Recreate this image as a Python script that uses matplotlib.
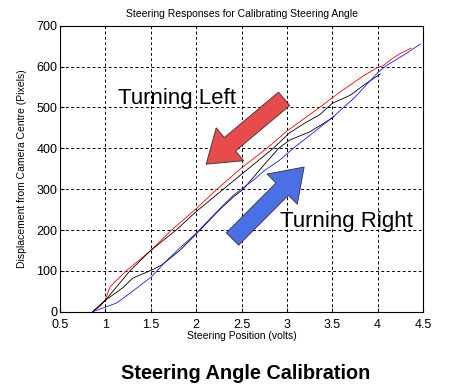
import matplotlib.pyplot as plt

plt.rcParams['font.family'] = ['Liberation Sans', 'DejaVu Sans']

# curvas: posicion de direccion (volts) vs desplazamiento (pixels)
rojo_x = [0.86, 0.95, 1.0, 1.05, 1.1, 1.23, 1.5, 1.73, 2.0, 2.23, 2.5, 2.78, 3.0,
          3.36, 3.6, 3.85, 4.0, 4.06, 4.15, 4.25, 4.37]
rojo_y = [0, 15, 30, 60, 72, 100, 150, 200, 252, 300, 352, 400, 442,
          500, 540, 578, 598, 602, 618, 632, 645]

negroA_x = [0.86, 1.0, 1.27, 1.5, 1.78, 2.0, 2.3, 2.52, 2.85, 3.03, 3.2, 3.36,
            3.5, 3.7, 3.85, 4.03]
negroA_y = [0, 28, 100, 150, 200, 245, 300, 340, 400, 438, 462, 482,
            510, 530, 555, 582]

negroB_x = [0.86, 1.0, 1.2, 1.3, 1.51, 1.62, 1.82, 2.0, 2.26, 2.41, 2.52, 2.75,
            2.91, 3.03, 3.25, 3.47, 3.52]
negroB_y = [0, 28, 60, 82, 102, 114, 150, 190, 250, 281, 300, 360,
            400, 420, 440, 470, 478]

azul_x = [0.86, 1.12, 1.27, 1.51, 1.66, 1.82, 2.0, 2.25, 2.41, 2.5, 2.63, 2.75,
          2.92, 3.07, 3.33, 3.51, 3.75, 4.0, 4.1, 4.3, 4.47]
azul_y = [0, 21, 45, 86, 122, 156, 192, 250, 285, 300, 322, 345,
          371, 400, 445, 477, 525, 585, 603, 630, 655]

xticks = [0.5, 1, 1.5, 2, 2.5, 3, 3.5, 4, 4.5]
xlabels = ['0.5', '1', '1.5', '2', '2.5', '3', '3.5', '4', '4.5']
yticks = [0, 100, 200, 300, 400, 500, 600, 700]

fig = plt.figure(figsize=(4.7, 3.92), dpi=100)
ax = fig.add_axes([0.1277, 0.2048, 0.7723, 0.7296])

ax.plot(rojo_x, rojo_y, color='red', lw=0.6)
ax.plot(negroA_x, negroA_y, color='black', lw=0.6)
ax.plot(negroB_x, negroB_y, color='black', lw=0.6)
ax.plot(azul_x, azul_y, color='#1a1aff', lw=0.6)

ax.set_xlim(0.5, 4.5)
ax.set_ylim(0, 700)
ax.set_xticks(xticks)
ax.set_xticklabels(xlabels)
ax.set_yticks(yticks)
ax.tick_params(direction='in', length=3, labelsize=9)
ax.tick_params(axis='x', pad=5.5)
ax.tick_params(axis='y', pad=2)
ax.grid(True, color='black', linestyle=(0, (3, 2.5)), linewidth=0.7)
for s in ax.spines.values():
    s.set_linewidth(0.8)

ax.set_title('Steering Responses for Calibrating Steering Angle', fontsize=7.5, pad=6)
ax.set_xlabel('Steering Position (volts)', fontsize=7.5, labelpad=0)
ax.set_ylabel('Displacement from Camera Centre (Pixels)', fontsize=7.5, labelpad=7)

# flechas gruesas
estilo = 'simple,head_width=2.2,tail_width=0.9,head_length=1.6'
ax.annotate('', xy=(2.11, 361), xytext=(2.97, 521),
            arrowprops=dict(arrowstyle=estilo, fc='#e84b4b', ec='#333333', lw=0.6,
                            mutation_scale=14, shrinkA=0, shrinkB=0))
ax.annotate('', xy=(3.19, 354), xytext=(2.40, 178),
            arrowprops=dict(arrowstyle=estilo, fc='#4b70e6', ec='#333333', lw=0.6,
                            mutation_scale=14, shrinkA=0, shrinkB=0))

ax.text(1.14, 508, 'Turning Left', fontsize=16, ha='left', va='baseline')
ax.text(2.92, 207, 'Turning Right', fontsize=16, ha='left', va='baseline')

fig.text(0.523, 0.033, 'Steering Angle Calibration', fontsize=14.3, fontweight='bold',
         ha='center', va='baseline')

plt.savefig('out.png', dpi=100)
